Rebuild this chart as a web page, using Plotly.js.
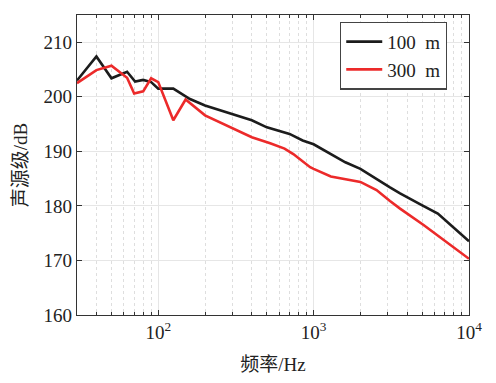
<!DOCTYPE html>
<html>
<head>
<meta charset="utf-8">
<script src="https://cdn.plot.ly/plotly-3.0.1.min.js"></script>
<style>html,body{margin:0;padding:0;background:#fff;}#chart{width:496px;height:383px;}</style>
</head>
<body>
<div id="chart"></div>
<script>
// 100 m series
var freq100 = [30, 40, 50, 63, 71, 80, 90, 100, 125, 160, 200, 300, 400, 500, 700, 850, 1000, 1600, 2000, 3100, 3600, 5000, 6300, 10000];
var level100 = [203.0, 207.4, 203.4, 204.6, 202.8, 203.1, 202.7, 201.5, 201.5, 199.6, 198.4, 196.9, 195.7, 194.4, 193.2, 192.0, 191.3, 188.0, 186.8, 183.4, 182.3, 180.1, 178.6, 173.5];
// 300 m series
var freq300 = [30, 40, 50, 63, 70, 80, 90, 100, 125, 150, 200, 300, 400, 525, 650, 740, 950, 1000, 1290, 2000, 2540, 3100, 3600, 5100, 6350, 10000];
var level300 = [202.5, 204.9, 205.7, 203.5, 200.6, 201.0, 203.4, 202.7, 195.7, 199.5, 196.6, 194.2, 192.6, 191.5, 190.5, 189.5, 187.1, 186.8, 185.4, 184.4, 182.9, 180.9, 179.5, 176.5, 174.5, 170.3];
// axis labels
var xTickVals = [100, 1000, 10000];
var xTickText = ['10<sup>2</sup>', '10<sup>3</sup>', '10<sup>4</sup>'];
var seriesNames = ['100\u2002m', '300\u2002m'];

var fontFam = '"Liberation Serif", "Noto Sans CJK SC", serif';
var traces = [
  {x: freq100, y: level100, mode: 'lines', name: seriesNames[0], line: {color: '#1c1c1c', width: 2.6}},
  {x: freq300, y: level300, mode: 'lines', name: seriesNames[1], line: {color: '#ec2a2a', width: 2.6}}
];
var layout = {
  width: 496, height: 383,
  margin: {l: 77, r: 27, t: 15, b: 68},
  paper_bgcolor: '#fff', plot_bgcolor: '#fff',
  font: {family: fontFam, size: 19, color: '#222'},
  showlegend: true,
  legend: {x: 0.944, xanchor: 'right', y: 0.978, yanchor: 'top', bgcolor: '#fff', bordercolor: '#444', borderwidth: 1.2,
           font: {family: fontFam, size: 19, color: '#222'}, tracegroupgap: 0, itemwidth: 36},
  xaxis: {
    type: 'log', range: [Math.log10(30), 4],
    tickmode: 'array', tickvals: xTickVals, ticktext: xTickText,
    ticks: 'inside', ticklen: 5, tickcolor: '#333', mirror: 'ticks',
    showline: true, linecolor: '#333', linewidth: 1.2,
    showgrid: true, gridcolor: '#e6e6e6', gridwidth: 1,
    minor: {dtick: 'D1', showgrid: true, gridcolor: '#dedede', griddash: 'dot', ticks: 'inside', ticklen: 3, tickcolor: '#333'},
    zeroline: false,
    title: {text: '频率/Hz', font: {family: fontFam, size: 19}, standoff: 15}
  },
  yaxis: {
    range: [160, 215], dtick: 10, tick0: 160,
    ticks: 'inside', ticklen: 5, tickcolor: '#333', mirror: 'ticks',
    showline: true, linecolor: '#333', linewidth: 1.2,
    showgrid: true, gridcolor: '#e6e6e6', gridwidth: 1,
    zeroline: false,
    title: {text: '声源级/dB', font: {family: fontFam, size: 19}, standoff: 10}
  }
};
Plotly.newPlot('chart', traces, layout, {displayModeBar: false, staticPlot: true});
</script>
</body>
</html>
